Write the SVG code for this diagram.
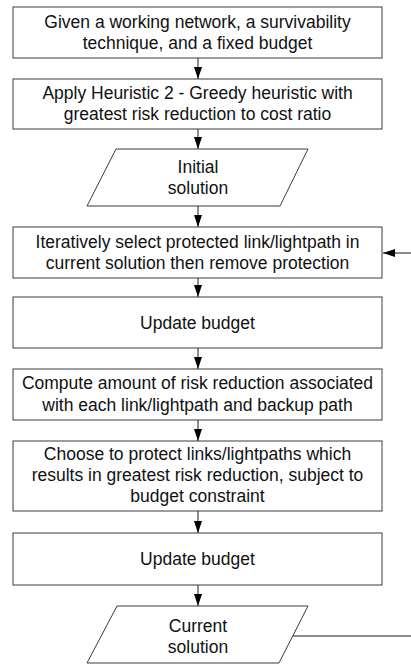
<svg xmlns="http://www.w3.org/2000/svg" width="411" height="664" viewBox="0 0 411 664">
  <style>
    .box { fill: #ffffff; stroke: #3a3a3a; stroke-width: 1; }
    .lbl { font-family: "Liberation Sans", Arial, sans-serif; font-size: 17.5px; fill: #111111; text-anchor: middle; }
    .wire { fill: none; stroke: #1a1a1a; stroke-width: 1; }
  </style>
  <defs>
    <marker id="head" markerUnits="userSpaceOnUse" markerWidth="12" markerHeight="10" refX="12" refY="4" orient="auto">
      <path d="M0,0 L12,4 L0,8 Z" fill="#000000"/>
    </marker>
  </defs>
  <rect x="0" y="0" width="411" height="664" fill="#ffffff"/>

  <!-- connectors -->
  <g id="connectors">
    <line class="wire" x1="198" y1="58" x2="198" y2="79" marker-end="url(#head)"/>
    <line class="wire" x1="198" y1="129" x2="198" y2="149" marker-end="url(#head)"/>
    <line class="wire" x1="198" y1="206" x2="198" y2="227" marker-end="url(#head)"/>
    <line class="wire" x1="198" y1="278" x2="198" y2="297" marker-end="url(#head)"/>
    <line class="wire" x1="198" y1="348" x2="198" y2="369" marker-end="url(#head)"/>
    <line class="wire" x1="198" y1="420" x2="198" y2="441" marker-end="url(#head)"/>
    <line class="wire" x1="198" y1="511" x2="198" y2="533" marker-end="url(#head)"/>
    <line class="wire" x1="198" y1="585" x2="198" y2="606" marker-end="url(#head)"/>
    <!-- loop back from current solution to the selection step -->
    <path class="wire" d="M292,636 H425 V253 H383" marker-end="url(#head)"/>
  </g>

  <g id="given">
    <rect class="box" x="13" y="7" width="369" height="51"/>
    <text class="lbl" x="197.5" y="28">Given a working network, a survivability</text>
    <text class="lbl" x="197.5" y="49">technique, and a fixed budget</text>
  </g>

  <g id="heuristic">
    <rect class="box" x="13" y="79" width="369" height="50"/>
    <text class="lbl" x="197.5" y="99">Apply Heuristic 2 - Greedy heuristic with</text>
    <text class="lbl" x="197.5" y="120">greatest risk reduction to cost ratio</text>
  </g>

  <g id="initial">
    <polygon class="box" points="116,149 308,149 280,206 87,206"/>
    <text class="lbl" x="198" y="173">Initial</text>
    <text class="lbl" x="198" y="194">solution</text>
  </g>

  <g id="select">
    <rect class="box" x="13" y="227" width="369" height="51"/>
    <text class="lbl" x="197.5" y="247.5">Iteratively select protected link/lightpath in</text>
    <text class="lbl" x="197.5" y="268.5">current solution then remove protection</text>
  </g>

  <g id="update1">
    <rect class="box" x="13" y="297" width="369" height="51"/>
    <text class="lbl" x="197.5" y="329">Update budget</text>
  </g>

  <g id="compute">
    <rect class="box" x="13" y="369" width="369" height="51"/>
    <text class="lbl" x="197.5" y="389">Compute amount of risk reduction associated</text>
    <text class="lbl" x="197.5" y="410.5">with each link/lightpath and backup path</text>
  </g>

  <g id="choose">
    <rect class="box" x="13" y="441" width="369" height="70"/>
    <text class="lbl" x="197.5" y="459.5">Choose to protect links/lightpaths which</text>
    <text class="lbl" x="197.5" y="481">results in greatest risk reduction, subject to</text>
    <text class="lbl" x="197.5" y="502">budget constraint</text>
  </g>

  <g id="update2">
    <rect class="box" x="13" y="533" width="369" height="52"/>
    <text class="lbl" x="197.5" y="565">Update budget</text>
  </g>

  <g id="current">
    <polygon class="box" points="117,606 308,606 279,663 87,663"/>
    <text class="lbl" x="198" y="632">Current</text>
    <text class="lbl" x="198" y="653">solution</text>
  </g>
</svg>
